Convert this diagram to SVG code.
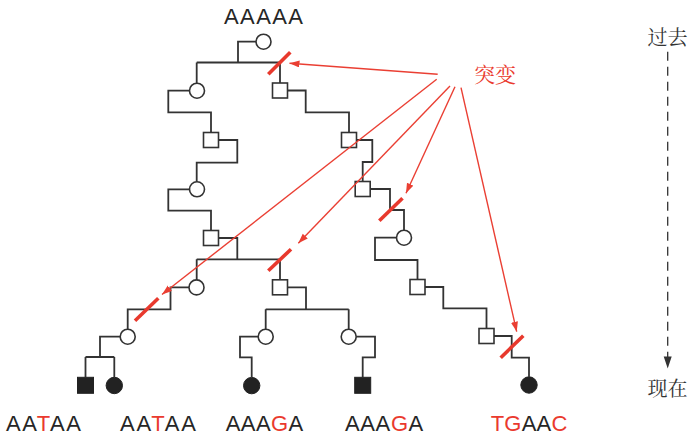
<svg xmlns="http://www.w3.org/2000/svg" width="696" height="438" viewBox="0 0 696 438">
<style>
.ln{fill:none;stroke:#333;stroke-width:1.8;stroke-linejoin:miter;stroke-linecap:butt}
.op{fill:#fff;stroke:#333;stroke-width:1.6}
.fl{fill:#222;stroke:#222;stroke-width:1}
.mut{stroke:#e8392d;stroke-width:3.6;stroke-linecap:butt}
.arr{stroke:#ea3f33;stroke-width:1.4;fill:none}
.seq{font-family:"Liberation Sans",Arial,sans-serif;font-size:22px;fill:#262626}
.r{fill:#ea3a2e}
.cn{font-family:"Noto Serif CJK SC","Noto Sans CJK SC",serif;font-size:20px;fill:#333}
</style>
<defs>
<marker id="ah" markerUnits="userSpaceOnUse" markerWidth="11" markerHeight="8" refX="10" refY="3.5" orient="auto">
<path d="M0,0 L10,3.5 L0,7 Z" fill="#ea3f33"/>
</marker>
</defs>
<rect width="696" height="438" fill="#fff"/>

<g id="connectors">
<path class="ln" d="M256,41.7 H238 V62.5 M196.7,62.5 H280 M196.7,62.5 V83.2 M280,62.5 V83"/>
<path class="ln" d="M189.5,90.7 H168.3 V112.3 H211 V132.5"/>
<path class="ln" d="M287.5,90.5 H305.7 V112.3 H349 V132.5"/>
<path class="ln" d="M218.5,140 H237.3 V162.7 H196.7 V181.8"/>
<path class="ln" d="M356.5,140 H372.3 V162 H362.7 V181.5"/>
<path class="ln" d="M189.5,189.3 H168.3 V210.7 H211 V230.5"/>
<path class="ln" d="M370.2,189 H390 V210 H404 V230.2"/>
<path class="ln" d="M218.5,238 H237.3 V259.3 M196.7,259.3 H280 M196.7,259.3 V280 M280,259.3 V279.8"/>
<path class="ln" d="M396.5,237.7 H375 V260 H417.5 V279.5"/>
<path class="ln" d="M189,287.4 H170.5 V309.3 H127.7 V329.2"/>
<path class="ln" d="M287.5,287.3 H306 V309.3 M265.7,309.3 H348.7 M265.7,309.3 V329.2 M348.7,309.3 V329.2"/>
<path class="ln" d="M425,287 H443.3 V308.3 H486.5 V328.5"/>
<path class="ln" d="M120.2,336.7 H100 V357 M85.5,357 H114.3 M85.5,357 V377.3 M114.3,357 V377.2"/>
<path class="ln" d="M258.2,336.7 H240 V357.3 H251.7 V377.3"/>
<path class="ln" d="M356.2,336.7 H375 V357.3 H362.7 V377.3"/>
<path class="ln" d="M494,336 H511.7 V357.7 H529 V376.7"/>
</g>

<g id="n0"><circle class="op" cx="263.5" cy="41.7" r="7.5"/></g>
<g id="n1"><circle class="op" cx="197" cy="90.7" r="7.5"/></g>
<g id="n2"><rect class="op" x="272.5" y="83" width="15" height="15"/></g>
<g id="n3"><rect class="op" x="203.5" y="132.5" width="15" height="15"/></g>
<g id="n4"><rect class="op" x="341.5" y="132.5" width="15" height="15"/></g>
<g id="n5"><circle class="op" cx="197" cy="189.3" r="7.5"/></g>
<g id="n6"><rect class="op" x="355.2" y="181.5" width="15" height="15"/></g>
<g id="n7"><rect class="op" x="203.5" y="230.5" width="15" height="15"/></g>
<g id="n8"><circle class="op" cx="404" cy="237.7" r="7.5"/></g>
<g id="n9"><circle class="op" cx="196.5" cy="287.4" r="7.5"/></g>
<g id="n10"><rect class="op" x="272.5" y="279.8" width="15" height="15"/></g>
<g id="n11"><rect class="op" x="410" y="279.5" width="15" height="15"/></g>
<g id="n12"><circle class="op" cx="127.7" cy="336.7" r="7.5"/></g>
<g id="n13"><circle class="op" cx="265.7" cy="336.7" r="7.5"/></g>
<g id="n14"><circle class="op" cx="348.7" cy="336.7" r="7.5"/></g>
<g id="n15"><rect class="op" x="479" y="328.5" width="15" height="15"/></g>
<g id="n16"><rect class="fl" x="77.5" y="377.3" width="16" height="16"/></g>
<g id="n17"><circle class="fl" cx="114.3" cy="385.5" r="8.2"/></g>
<g id="n18"><circle class="fl" cx="251.7" cy="385.6" r="8.2"/></g>
<g id="n19"><rect class="fl" x="354.7" y="377.3" width="16" height="16"/></g>
<g id="n20"><circle class="fl" cx="529" cy="385" r="8.2"/></g>

<g id="mutations">
<line class="mut" x1="268.3" y1="74.3" x2="290.3" y2="52.3"/>
<line class="mut" x1="135" y1="320.7" x2="158.3" y2="298.3"/>
<line class="mut" x1="268.3" y1="270.7" x2="291" y2="249.3"/>
<line class="mut" x1="379.3" y1="220.7" x2="402.5" y2="198.3"/>
<line class="mut" x1="500.7" y1="357.7" x2="523.3" y2="335.7"/>
</g>

<g id="mutation-arrows">
<line class="arr" x1="437.7" y1="74.3" x2="289.5" y2="63.3" marker-end="url(#ah)"/>
<line class="arr" x1="436.7" y1="79.3" x2="162" y2="294.5" marker-end="url(#ah)"/>
<line class="arr" x1="450" y1="86" x2="298.3" y2="243.3" marker-end="url(#ah)"/>
<line class="arr" x1="455" y1="86.7" x2="406" y2="193.3" marker-end="url(#ah)"/>
<line class="arr" x1="461" y1="87.7" x2="516.7" y2="331.7" marker-end="url(#ah)"/>
</g>

<g id="label-mutation">
<text x="474" y="82" font-family="'Noto Serif CJK SC','Noto Sans CJK SC',serif" font-size="21" fill="#ea3a2e">突变</text>
</g>

<g id="timeline">
<line x1="667.7" y1="51.7" x2="667.7" y2="358" stroke="#333" stroke-width="1.3" stroke-dasharray="9 6"/>
<path d="M663.7,356.5 L671.7,356.5 L667.7,368.5 Z" fill="#333"/>
<text class="cn" x="667.5" y="45" text-anchor="middle">过去</text>
<text class="cn" x="667.5" y="396" text-anchor="middle">现在</text>
</g>

<g id="sequences">
<text class="seq" x="224" y="24" textLength="79" lengthAdjust="spacing">AAAAA</text>
<text class="seq" x="6" y="431" textLength="75" lengthAdjust="spacing">AA<tspan class="r">T</tspan>AA</text>
<text class="seq" x="120" y="431" textLength="76" lengthAdjust="spacing">AA<tspan class="r">T</tspan>AA</text>
<text class="seq" x="225.7" y="431" textLength="77.6" lengthAdjust="spacing">AAA<tspan class="r">G</tspan>A</text>
<text class="seq" x="345" y="431" textLength="78.3" lengthAdjust="spacing">AAA<tspan class="r">G</tspan>A</text>
<text class="seq" x="490.7" y="431" textLength="76.6" lengthAdjust="spacing"><tspan class="r">TG</tspan>AA<tspan class="r">C</tspan></text>
</g>
</svg>
